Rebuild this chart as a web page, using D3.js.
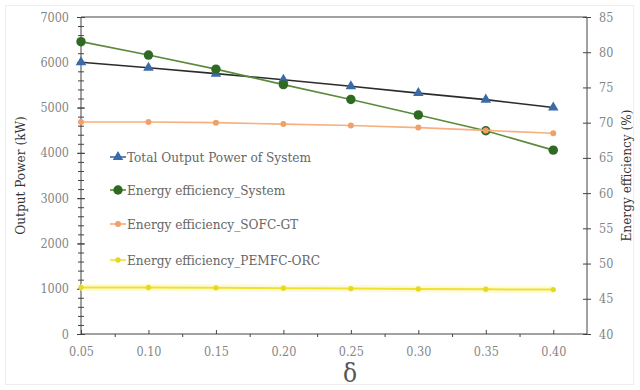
<!DOCTYPE html>
<html>
<head>
<meta charset="utf-8">
<script src="https://cdn.jsdelivr.net/npm/d3@7"></script>
<style>
  body { margin: 0; background: #fff; }
  .tick text { fill: #858585; font-size: 12.5px; }
  .domain, .tick line { stroke: #444; }
</style>
</head>
<body>
<div id="grafico"></div>
<script>
// valores de delta
const deltas = [0.05, 0.10, 0.15, 0.20, 0.25, 0.30, 0.35, 0.40]

// series
const totalPower = [6000, 5880, 5750, 5615, 5470, 5320, 5175, 5000]   // kW
const effSystem = [81.5, 79.6, 77.6, 75.4, 73.3, 71.1, 68.85, 66.1]   // %
const effSofc = [70.1, 70.1, 70.0, 69.8, 69.6, 69.3, 68.9, 68.5]      // %
const effPemfc = [46.6, 46.6, 46.55, 46.5, 46.45, 46.4, 46.35, 46.3] // %

const xTicks = [0.05, 0.10, 0.15, 0.20, 0.25, 0.30, 0.35, 0.40]
const leftTicks = [0, 1000, 2000, 3000, 4000, 5000, 6000, 7000]
const rightTicks = [40, 45, 50, 55, 60, 65, 70, 75, 80, 85]

const legendLabels = [
  "Total Output Power of System",
  "Energy efficiency_System",
  "Energy efficiency_SOFC-GT",
  "Energy efficiency_PEMFC-ORC"
]

const width = 640, height = 390
const plot = {left: 81, right: 587, top: 17, bottom: 334}
const serif = "'DejaVu Serif Condensed', 'DejaVu Serif', serif"

const svg = d3.select("#grafico")
  .append("svg")
  .attr("width", width)
  .attr("height", height)
  .style("font-family", serif)
  .style("font-stretch", "condensed")

// borda clara da figura
svg.append("rect")
  .attr("x", 5.5).attr("y", 5.5)
  .attr("width", 628).attr("height", 379)
  .attr("fill", "none")
  .attr("stroke", "#eee")

// escalas
const x = d3.scaleLinear().domain([0.05, 0.425]).range([plot.left, plot.right])
const yL = d3.scaleLinear().domain([0, 7000]).range([plot.bottom, plot.top])
const yR = d3.scaleLinear().domain([40, 85]).range([plot.bottom, plot.top])

// linha superior
svg.append("line")
  .attr("x1", plot.left).attr("x2", plot.right)
  .attr("y1", plot.top).attr("y2", plot.top)
  .attr("stroke", "#444")

// ticks menores
svg.append("g")
  .attr("transform", `translate(${plot.left},0)`)
  .call(d3.axisLeft(yL).tickValues(d3.range(200, 7000, 200)).tickSize(3).tickFormat(""))
  .call(g => g.select(".domain").remove())
  .call(g => g.selectAll(".tick line").attr("x2", 3).attr("x1", -3))
svg.append("g")
  .attr("transform", `translate(0,${plot.bottom})`)
  .call(d3.axisBottom(x).tickValues([0.075, 0.125, 0.175, 0.225, 0.275, 0.325, 0.375]).tickSize(3).tickFormat(""))
  .call(g => g.select(".domain").remove())

// eixo x
svg.append("g")
  .attr("transform", `translate(0,${plot.bottom})`)
  .call(d3.axisBottom(x).tickValues(xTicks).tickSize(-4).tickPadding(13).tickFormat(d3.format(".2f")))
  .attr("font-family", null)
  .call(g => g.select(".domain").attr("d", `M${plot.left},0H${plot.right}`))

// eixo y esquerdo
svg.append("g")
  .attr("transform", `translate(${plot.left},0)`)
  .call(d3.axisLeft(yL).tickValues(leftTicks).tickSize(4).tickPadding(8).tickFormat(d3.format("d")))
  .attr("font-family", null)
  .call(g => g.select(".domain").attr("d", `M0,${plot.top}V${plot.bottom}`))
  .call(g => g.selectAll(".tick line").attr("x1", 4))

// eixo y direito
svg.append("g")
  .attr("transform", `translate(${plot.right},0)`)
  .call(d3.axisRight(yR).tickValues(rightTicks).tickSize(4).tickPadding(8))
  .attr("font-family", null)
  .call(g => g.select(".domain").attr("d", `M0,${plot.top}V${plot.bottom}`))
  .call(g => g.selectAll(".tick line").attr("x1", -4))

// titulos dos eixos
svg.append("text")
  .attr("transform", `translate(25,${(plot.top + plot.bottom) / 2}) rotate(-90)`)
  .attr("text-anchor", "middle")
  .attr("font-size", "13.5px")
  .attr("fill", "#333")
  .text("Output Power (kW)")

svg.append("text")
  .attr("transform", `translate(631,${(plot.top + plot.bottom) / 2}) rotate(-90)`)
  .attr("text-anchor", "middle")
  .attr("font-size", "13.5px")
  .attr("fill", "#333")
  .text("Energy efficiency (%)")

svg.append("text")
  .attr("x", 350)
  .attr("y", 382)
  .attr("text-anchor", "middle")
  .attr("font-size", "26px")
  .attr("fill", "#555")
  .text("δ")

// series
const series = [
  {values: totalPower, y: yL, line: "#2b2b2b", marker: "#3a6aa8", shape: d3.symbolTriangle, size: 48, width: 1.6},
  {values: effSystem, y: yR, line: "#5a8a3c", marker: "#2f6a22", shape: d3.symbolCircle, size: 70, width: 1.6},
  {values: effSofc, y: yR, line: "#f6b07e", marker: "#f0a06a", shape: d3.symbolCircle, size: 28, width: 1.6},
  {values: effPemfc, y: yR, line: "#f0e030", marker: "#e8d820", shape: d3.symbolCircle, size: 22, width: 2}
]

series.forEach((s, k) => {
  const pts = deltas.map((d, i) => [x(d), s.y(s.values[i])])
  if (k === 3) {
    // brilho amarelo
    svg.append("path")
      .attr("d", d3.line()(pts))
      .attr("fill", "none")
      .attr("stroke", "#fcfad8")
      .attr("stroke-width", 7)
  }
  svg.append("path")
    .attr("d", d3.line()(pts))
    .attr("fill", "none")
    .attr("stroke", s.line)
    .attr("stroke-width", s.width)
  svg.selectAll(null)
    .data(pts)
    .join("path")
    .attr("transform", p => `translate(${p[0]},${p[1]})`)
    .attr("d", d3.symbol(s.shape, s.size))
    .attr("fill", s.marker)
})

// legenda
const legendY = [157, 190, 224, 260]
legendLabels.forEach((label, i) => {
  const s = series[i]
  const g = svg.append("g").attr("transform", `translate(110,${legendY[i]})`)
  g.append("line")
    .attr("x1", 0).attr("x2", 16)
    .attr("stroke", i === 0 ? "#3a6aa8" : s.line)
    .attr("stroke-width", 1.6)
  g.append("path")
    .attr("transform", "translate(8,0)")
    .attr("d", d3.symbol(s.shape, s.size))
    .attr("fill", s.marker)
  g.append("text")
    .attr("x", 17)
    .attr("y", 4.5)
    .attr("font-size", "13.5px")
    .attr("fill", "#666")
    .text(label)
})
</script>
</body>
</html>
